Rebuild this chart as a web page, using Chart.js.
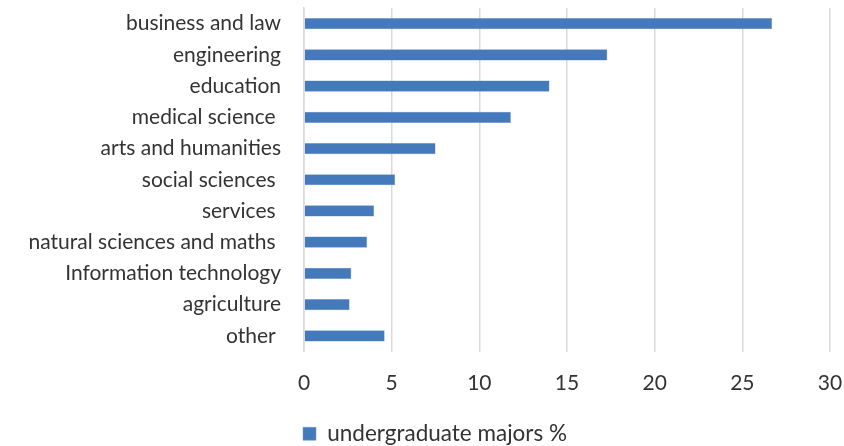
<!DOCTYPE html>
<html>
<head>
<meta charset="utf-8">
<script src="https://cdn.jsdelivr.net/npm/chart.js@4/dist/chart.umd.min.js"></script>
<style>
    html, body { margin: 0; padding: 0; background: #fff; }
    #wrap { width: 844px; height: 446px; }
</style>
</head>
<body>
<div id="wrap"><canvas id="chart"></canvas></div>
<script>
// Category labels keep the trailing spaces the source sheet had.
const majors = [
    'business and law',
    'engineering',
    'education',
    'medical science ',
    'arts and humanities',
    'social sciences ',
    'services ',
    'natural sciences and maths ',
    'Information technology',
    'agriculture',
    'other ',
];
const sharePercent = [26.7, 17.3, 14.0, 11.8, 7.5, 5.2, 4.0, 3.6, 2.7, 2.6, 4.6];
const seriesLabel = 'undergraduate majors %';

const textColor = '#333333';
const barBlue = '#4479bb';

Chart.defaults.font.family = "Lato, sans-serif";
Chart.defaults.font.size = 21;
Chart.defaults.color = textColor;

// The legend in the original sits a little right of the canvas centre.
const nudgeLegend = {
    id: 'nudgeLegend',
    afterLayout(chart) {
        chart.legend.left += 20;
        chart.legend.right += 20;
    },
};

new Chart(document.getElementById('chart'), {
    type: 'bar',
    data: {
        labels: majors,
        datasets: [{
            label: seriesLabel,
            data: sharePercent,
            backgroundColor: barBlue,
            borderColor: '#6d9ad0',
            borderWidth: 0.5,
            categoryPercentage: 1,
            barPercentage: 0.36,
        }],
    },
    options: {
        indexAxis: 'y',
        responsive: true,
        maintainAspectRatio: false,
        animation: false,
        layout: { padding: { top: 8, left: 0, right: 14, bottom: -9 } },
        scales: {
            x: {
                min: 0,
                max: 30,
                ticks: { stepSize: 5, padding: 19 },
                grid: { color: '#d9d9d9', lineWidth: 1.5, drawTicks: false },
                border: { display: false },
                afterFit: (scale) => {
                    scale.height = 68;
                    scale.paddingLeft = 0;
                    scale.paddingRight = 0;
                },
            },
            y: {
                ticks: { padding: 23, autoSkip: false },
                grid: { display: false, drawTicks: false },
                border: { color: '#d9d9d9', width: 1.5 },
                // Fix the axis width so the plot starts where the original does,
                // and drop the label padding that would push the plot down.
                afterFit: (scale) => {
                    scale.width = 304;
                    scale.paddingTop = 0;
                    scale.paddingBottom = 0;
                },
            },
        },
        plugins: {
            legend: {
                position: 'bottom',
                labels: {
                    boxWidth: 13,
                    boxHeight: 13,
                    padding: 3,
                    font: { size: 22.5 },
                },
            },
            tooltip: { enabled: false },
        },
    },
    plugins: [nudgeLegend],
});
</script>
</body>
</html>
